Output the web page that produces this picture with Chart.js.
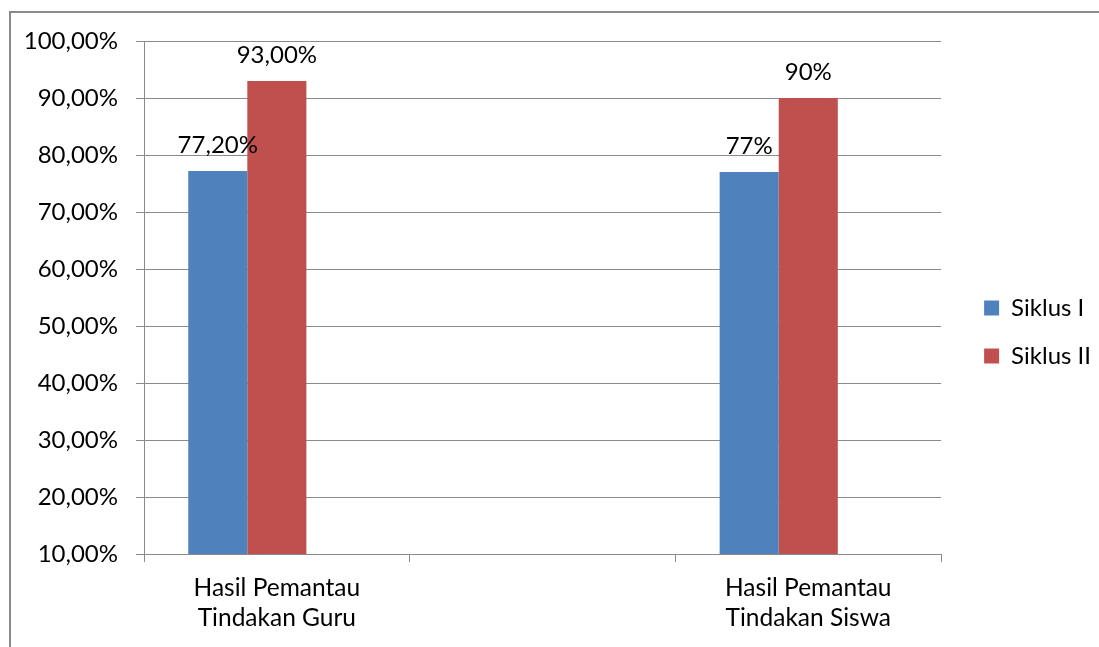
<!DOCTYPE html>
<html>
<head>
<meta charset="utf-8">
<script src="https://cdn.jsdelivr.net/npm/chart.js@4"></script>
<style>
  html, body { margin: 0; padding: 0; background: #fff; overflow: hidden; }
  #frame {
    position: absolute; left: 9px; top: 11px; width: 2000px; height: 2000px;
    border: 2px solid #8a8a8a; box-sizing: border-box;
  }
  #wrap { position: absolute; left: 0; top: 0; width: 1099px; height: 647px; }
</style>
</head>
<body>
<div id="frame"></div>
<div id="wrap"><canvas id="c" width="1099" height="647"></canvas></div>
<script>
// Categories (the middle slot is an empty category)
const categories = [['Hasil Pemantau', 'Tindakan Guru'], '', ['Hasil Pemantau', 'Tindakan Siswa']];

// Series values in percent
const siklusI = [77.2, null, 77];
const siklusII = [93, null, 90];
const blankSeries = [null, null, null];

// Value labels shown above the bars
const siklusILabels = ['77,20%', '', '77%'];
const siklusIILabels = ['93,00%', '', '90%'];

// Value axis
const yMin = 10;
const yMax = 100;
const yStep = 10;

const FONT = 'Lato, "Liberation Sans", sans-serif';

const valueLabelPlugin = {
  id: 'valueLabels',
  afterDatasetsDraw(chart) {
    const ctx = chart.ctx;
    ctx.save();
    ctx.font = '24px ' + FONT;
    ctx.fillStyle = '#000';
    ctx.textAlign = 'center';
    ctx.textBaseline = 'alphabetic';
    chart.data.datasets.forEach((ds, di) => {
      if (!ds.valueLabels) return;
      const meta = chart.getDatasetMeta(di);
      meta.data.forEach((bar, i) => {
        const txt = ds.valueLabels[i];
        if (!txt || ds.data[i] == null) return;
        ctx.fillText(txt, bar.x, bar.y - 18);
      });
    });
    ctx.restore();
  }
};

// nudges the legend block: wider gap after the plot, a little higher up
const legendGapPlugin = {
  id: 'legendGap',
  afterLayout(chart) {
    const lg = chart.legend;
    if (!lg) return;
    lg.left += 19;
    lg.right += 19;
    lg.top -= 12;
    lg.bottom -= 12;
  }
};

new Chart(document.getElementById('c'), {
  type: 'bar',
  data: {
    labels: categories,
    datasets: [
      { label: 'Siklus I', data: siklusI, valueLabels: siklusILabels, backgroundColor: '#4F81BD' },
      { label: 'Siklus II', data: siklusII, valueLabels: siklusIILabels, backgroundColor: '#C0504D' },
      { label: '', data: blankSeries, backgroundColor: 'rgba(0,0,0,0)' }
    ]
  },
  plugins: [valueLabelPlugin, legendGapPlugin],
  options: {
    responsive: false,
    animation: false,
    layout: { padding: { left: 0, top: 41, right: 17, bottom: 0 } },
    datasets: {
      bar: { categoryPercentage: 0.667, barPercentage: 1.0 }
    },
    plugins: {
      tooltip: { enabled: false },
      legend: {
        position: 'right',
        labels: {
          filter: (item) => item.text !== '',
          boxWidth: 15,
          boxHeight: 15,
          padding: 24,
          color: '#000',
          font: { family: FONT, size: 24 }
        }
      }
    },
    scales: {
      x: {
        grid: {
          offset: true,
          drawOnChartArea: false,
          drawTicks: true,
          tickLength: 8,
          color: '#8a8a8a'
        },
        border: { color: '#8a8a8a', width: 1 },
        ticks: {
          color: '#000',
          padding: 11,
          maxRotation: 0,
          autoSkip: false,
          font: { family: FONT, size: 24.5, lineHeight: 1.24 }
        },
        afterFit(scale) { scale.height = 93; }
      },
      y: {
        min: yMin,
        max: yMax,
        grid: { color: '#8a8a8a', tickLength: 8 },
        border: { color: '#8a8a8a', width: 1 },
        ticks: {
          stepSize: yStep,
          color: '#000',
          padding: 18,
          font: { family: FONT, size: 24 },
          callback: (v) => v.toFixed(2).replace('.', ',') + '%'
        },
        afterFit(scale) { scale.width = 144; }
      }
    }
  }
});
</script>
</body>
</html>
